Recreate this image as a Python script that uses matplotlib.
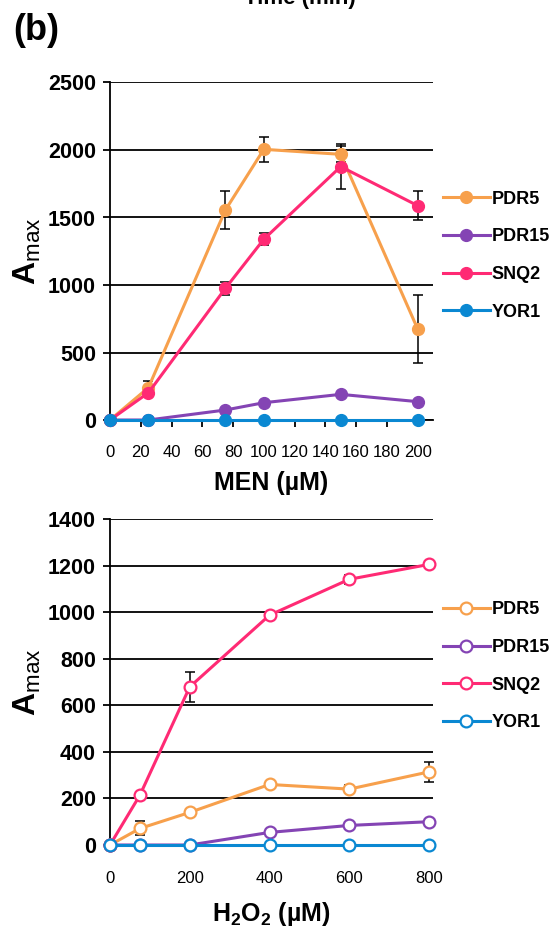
import matplotlib
matplotlib.use("Agg")
import matplotlib.pyplot as plt

plt.rcParams['font.family'] = ['Liberation Sans', 'DejaVu Sans']
plt.rcParams['mathtext.fontset'] = 'custom'
plt.rcParams['mathtext.rm'] = 'Liberation Sans'
plt.rcParams['mathtext.bf'] = 'Liberation Sans:bold'

# MEN panel (filled markers)
men_x = [0, 25, 75, 100, 150, 200]
men_pdr5 = [0, 240, 1555, 2005, 1968, 675]
men_pdr5_err = [0, 50, 140, 93, 60, 250]
men_pdr15 = [0, 0, 74, 128, 190, 136]
men_snq2 = [0, 202, 975, 1339, 1877, 1588]
men_snq2_err = [0, 20, 50, 45, 165, 105]
men_yor1 = [0, 0, 0, 0, 0, 0]

# H2O2 panel (open markers)
h2o2_x = [0, 75, 200, 400, 600, 800]
h2o2_pdr5 = [0, 71, 140, 260, 240, 314]
h2o2_pdr5_err = [0, 30, 0, 0, 18, 43]
h2o2_pdr15 = [0, 0, 0, 54, 84, 100]
h2o2_snq2 = [0, 214, 679, 987, 1141, 1205]
h2o2_snq2_err = [0, 0, 65, 0, 20, 0]
h2o2_yor1 = [0, 0, 0, 0, 0, 0]

gene_names = ['PDR5', 'PDR15', 'SNQ2', 'YOR1']
gene_colors = ['#F7A04C', '#8444B4', '#FF2A74', '#0A88D2']

men_ticks = list(range(0, 201, 20))
h2o2_ticks = [0, 200, 400, 600, 800]

W, H = 554, 930
fig = plt.figure(figsize=(W / 100, H / 100), dpi=100)
fig.patch.set_facecolor('white')


def ax_rect(x0, y0, x1, y1):
    return [x0 / W, 1 - y1 / H, (x1 - x0) / W, (y1 - y0) / H]


def stil(ax, ymax, ystep):
    ax.set_ylim(0, ymax)
    ax.set_yticks(range(0, ymax + 1, ystep))
    ax.yaxis.grid(True, color='black', linewidth=1.3)
    ax.set_axisbelow(True)
    for s in ['top', 'right']:
        ax.spines[s].set_visible(False)
    ax.spines['left'].set_linewidth(1.3)
    ax.spines['bottom'].set_linewidth(1.3)
    ax.tick_params(axis='y', direction='out', length=5, width=1.3, labelsize=15.5, pad=5)
    for lbl in ax.get_yticklabels():
        lbl.set_fontweight('bold')
    ax.set_ylabel(r'A$_{\mathrm{max}}$', fontsize=23, fontweight='bold', labelpad=4)


def lejant(ax, y_ust):
    ax.legend(loc='upper left', bbox_to_anchor=(1.03, y_ust), frameon=False,
              prop={'weight': 'bold', 'size': 13}, handlelength=2.6,
              labelspacing=1.15, borderaxespad=0, borderpad=0, handletextpad=0.1)


# --- Ust panel: MEN ---
ax1 = fig.add_axes(ax_rect(110, 82.5, 433, 420))
seriler1 = [men_pdr5, men_pdr15, men_snq2, men_yor1]
hatalar1 = [men_pdr5_err, None, men_snq2_err, None]
for ad, renk, y, e in zip(gene_names, gene_colors, seriler1, hatalar1):
    if e is not None:
        ax1.errorbar(men_x, y, yerr=e, fmt='none', ecolor='black', elinewidth=1.1,
                     capsize=3.5, capthick=1.1, zorder=3, clip_on=False)
    ax1.plot(men_x, y, '-o', color=renk, linewidth=2.2, markersize=8.5, label=ad,
             zorder=4, clip_on=False)
ax1.set_xlim(0, 210)
ax1.set_xticks(men_ticks)
ax1.tick_params(axis='x', direction='out', length=5, width=1.3, labelsize=12, pad=13)
stil(ax1, 2500, 500)
ax1.set_xlabel('MEN (µM)', fontsize=18, fontweight='bold', labelpad=8)
lejant(ax1, 0.68)

# --- Alt panel: H2O2 ---
ax2 = fig.add_axes(ax_rect(110, 519, 433, 845))
seriler2 = [h2o2_pdr5, h2o2_pdr15, h2o2_snq2, h2o2_yor1]
hatalar2 = [h2o2_pdr5_err, None, h2o2_snq2_err, None]
for ad, renk, y, e in zip(gene_names, gene_colors, seriler2, hatalar2):
    if e is not None:
        ax2.errorbar(h2o2_x, y, yerr=e, fmt='none', ecolor='black', elinewidth=1.1,
                     capsize=3.5, capthick=1.1, zorder=3, clip_on=False)
    ax2.plot(h2o2_x, y, '-o', color=renk, linewidth=2.2, markersize=8.5,
             markerfacecolor='white', markeredgewidth=1.6, label=ad,
             zorder=4, clip_on=False)
ax2.set_xlim(0, 810)
ax2.set_xticks(h2o2_ticks)
ax2.tick_params(axis='x', length=0, labelsize=12, pad=19)
stil(ax2, 1400, 200)
ax2.set_xlabel(r'H$_\mathbf{2}$O$_\mathbf{2}$ (µM)', fontsize=18, fontweight='bold', labelpad=10)
lejant(ax2, 0.748)

# panel etiketi ve ustten kesilen baslik
fig.text(36 / W, 1 - 30 / H, '(b)', fontsize=26, fontweight='bold', ha='center', va='center')
fig.text(300 / W, 1 - 9 / H, 'Time (min)', fontsize=16, fontweight='bold', ha='center', va='bottom')

fig.savefig('out.png', dpi=100, facecolor='white')
